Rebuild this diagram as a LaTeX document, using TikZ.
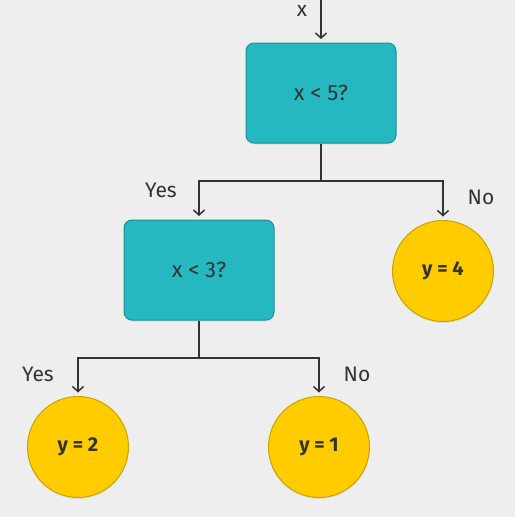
\documentclass[tikz,border=0pt]{standalone}
\usepackage{fontspec}
\setmainfont{Fira Sans}
\usetikzlibrary{arrows.meta,shadows}
\definecolor{bg}{HTML}{EEEEEE}
\definecolor{ink}{HTML}{333333}
\definecolor{tealfill}{HTML}{26B8C0}
\definecolor{tealedge}{HTML}{1E8E94}
\definecolor{goldfill}{HTML}{FFCC00}
\definecolor{goldedge}{HTML}{C9A400}
\tikzset{
  x=1pt, y=-1pt,
  decision/.style={draw=tealedge, fill=tealfill, line width=1pt, rounded corners=8pt,
    minimum width=150pt, minimum height=100pt, inner sep=0pt, text=ink,
    font=\fontsize{22}{24}\selectfont,
    drop shadow={shadow xshift=0pt, shadow yshift=-1.5pt, opacity=0.15}},
  leaf/.style={circle, draw=goldedge, fill=goldfill, line width=1pt,
    minimum size=101pt, inner sep=0pt, text=ink,
    font=\fontsize{20}{24}\selectfont\bfseries,
    drop shadow={shadow xshift=0pt, shadow yshift=-1.5pt, opacity=0.15}},
  wire/.style={draw=ink, line width=1.5pt},
  conn/.style={wire, -{Straight Barb[length=5pt,width=11pt,line width=1.5pt]}, shorten >=3.5pt},
  lbl/.style={text=ink, font=\fontsize{21}{24}\selectfont, inner sep=0pt},
}
\begin{document}
\begin{tikzpicture}
\fill[bg] (0,0) rectangle (515,517);
\useasboundingbox (0,0) rectangle (515,517);
\coordinate (top) at (321,0);
\node[decision] (d1) at (321,93) {x < 5?};
\node[decision] (d2) at (199,270) {x < 3?};
\node[leaf] (l4) at (443,271) {y = 4};
\node[leaf] (l2) at (78,447) {y = 2};
\node[leaf] (l1) at (319,447) {y = 1};
\coordinate (j1) at (321,181);
\coordinate (j2) at (199,358);
\draw[conn] (top) -- (d1.north);
\draw[wire] (d1.south) -- (j1);
\draw[conn] (j1) -| (d2.north);
\draw[conn] (j1) -| (l4.north);
\draw[wire] (d2.south) -- (j2);
\draw[conn] (j2) -| (l2.north);
\draw[conn] (j2) -| (l1.north);
\node[lbl] (lx) at (302,11) {x};
\node[lbl] (ly1) at (161,190) {Yes};
\node[lbl] (ln1) at (481,197) {No};
\node[lbl] (ly2) at (38,374) {Yes};
\node[lbl] (ln2) at (357,374) {No};
\end{tikzpicture}
\end{document}
